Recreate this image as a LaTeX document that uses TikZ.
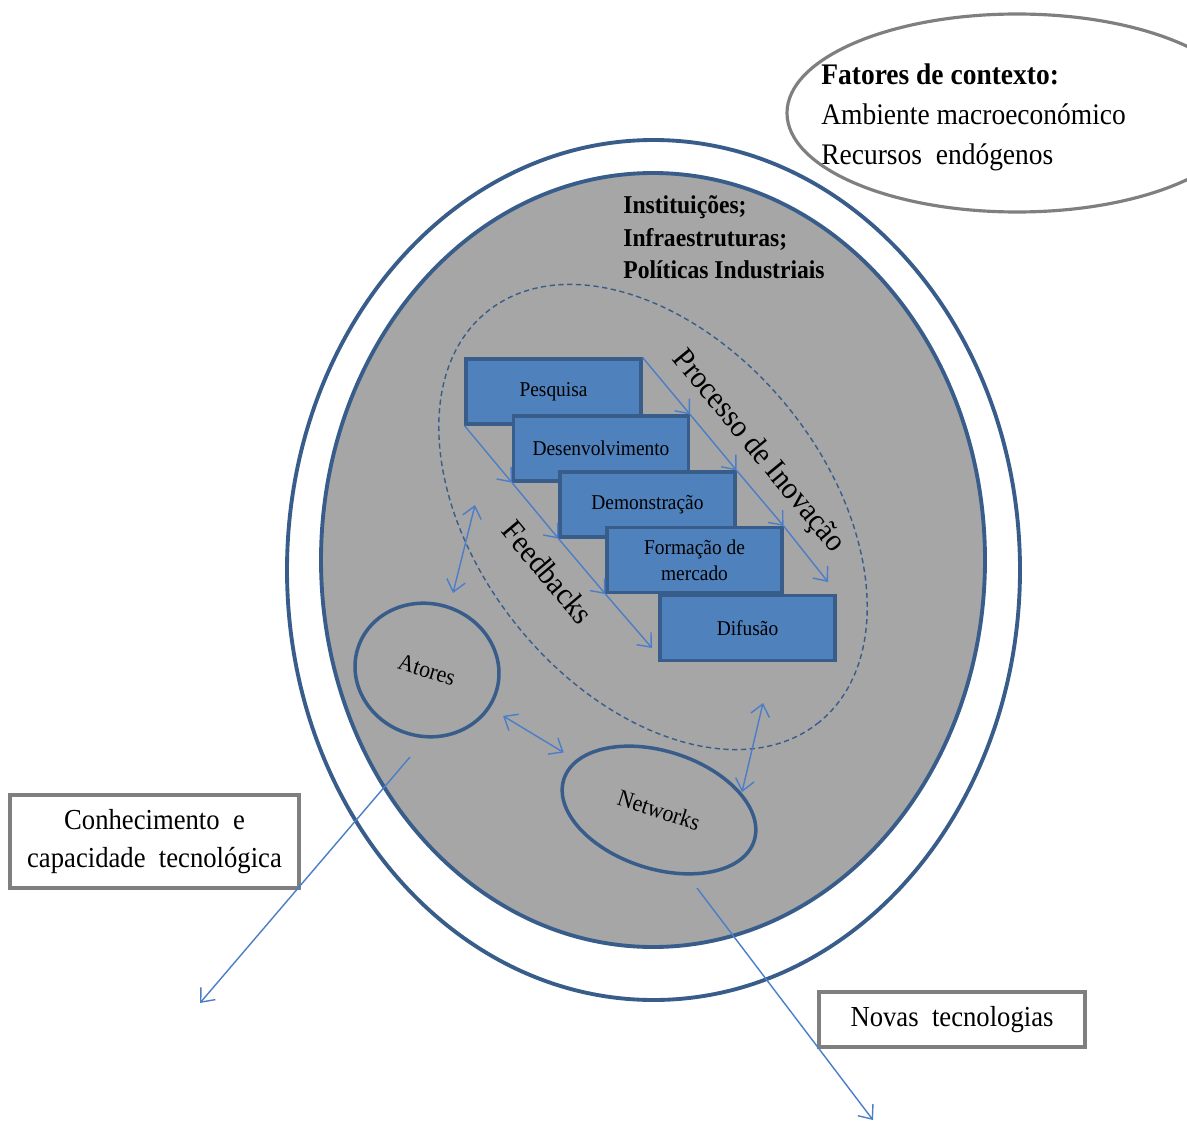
\documentclass[tikz,border=0pt]{standalone}
\usepackage{fontspec}
\setmainfont{Liberation Serif}[FakeStretch=0.92]
\usetikzlibrary{arrows.meta,shapes.geometric}
\tikzset{>={Straight Barb[length=2.3mm,width=3.8mm]}}

\definecolor{ringblue}{RGB}{56,93,138}
\definecolor{boxblue}{RGB}{79,129,189}
\definecolor{arrowblue}{RGB}{74,126,200}
\definecolor{areagray}{RGB}{166,166,166}
\definecolor{framegray}{RGB}{127,127,127}

\tikzset{
    stepbox/.style={draw=ringblue, line width=1.8pt, fill=boxblue, minimum width=3.5cm,
        minimum height=1.3cm, inner sep=0pt, align=center, font=\fontsize{12}{15}\selectfont},
    flow/.style={->, draw=arrowblue, line width=0.8pt},
    both/.style={<->, draw=arrowblue, line width=0.8pt},
    blob/.style={ellipse, draw=ringblue, line width=2pt, inner sep=0pt, font=\fontsize{13.5}{15}\selectfont},
    framebox/.style={draw=framegray, line width=1.8pt, fill=white, inner sep=0pt, align=center,
        font=\fontsize{16.5}{22}\selectfont},
}

\begin{document}
\begin{tikzpicture}[x=0.02cm, y=-0.02cm]
    \useasboundingbox (0, 0) rectangle (1187, 1122);
    % sistema
    \draw[ringblue, line width=2.2pt, fill=white](653.5, 570) ellipse [x radius=366.5, y radius=430];
    \draw[ringblue, line width=2.2pt, fill=areagray](653, 560) ellipse [x radius=332, y radius=387];
    \draw[ringblue, line width=0.8pt, dash pattern=on 3pt off 2pt, rotate around={-51:(653, 517)}]
        (653, 517) ellipse [x radius=264, y radius=174];
    \node[anchor=north west, align=left, inner sep=0pt, font=\bfseries\fontsize{14.6}{18.7}\selectfont](inst) at (623, 195)
        {Instituições;\\Infraestruturas;\\Políticas Industriais};
    % contexto
    \draw[framegray, line width=1.8pt, fill=white](1017, 113) ellipse [x radius=230, y radius=99];
    \node[anchor=west, align=left, inner sep=0pt, font=\fontsize{17}{22.7}\selectfont](ctx) at (821, 117)
        {\textbf{Fatores de contexto:}\\Ambiente macroeconómico\\Recursos\ \ endógenos};

    % etapas
    \node[stepbox](pes) at (553.5, 391.5){Pesquisa};
    \node[stepbox](des) at (601, 448.5){Desenvolvimento};
    \node[stepbox](dem) at (647.5, 504.5){Demonstração};
    \node[stepbox](form) at (694.5, 560){Formação de\\mercado};
    \node[stepbox](dif) at (747.5, 628){Difusão};
    \coordinate (pend) at (828, 582);
    \coordinate (fend) at (652, 648);
    \draw[flow](pes.north east)--(des.north east);
    \draw[flow](des.north east)--(dem.north east);
    \draw[flow](dem.north east)--(form.north east);
    \draw[flow](form.north east)--(pend);
    \draw[flow](pes.south west)--(des.south west);
    \draw[flow](des.south west)--(dem.south west);
    \draw[flow](dem.south west)--(form.south west);
    \draw[flow](form.south west)--(fend);
    \node[rotate=-50.5, font=\fontsize{18}{20}\selectfont](proc) at (758, 452){Processo de Inovação};
    \node[rotate=-50, font=\fontsize{18}{20}\selectfont](feed) at (548, 572){Feedbacks};

    % atores e redes
    \node[blob, minimum width=2.9cm, minimum height=2.65cm, rotate=-17](atores) at (427, 670){Atores};
    \node[blob, minimum width=4.0cm, minimum height=2.35cm, rotate=-18](net) at (659, 810){Networks};
    \coordinate (u1) at (453, 593);
    \coordinate (u2) at (475, 505);
    \coordinate (v1) at (763, 703);
    \coordinate (v2) at (742, 792);
    \draw[both](u1)--(u2);
    \draw[both, shorten <=0.3cm, shorten >=0.28cm](atores)--(net);
    \draw[both](v1)--(v2);

    % saidas
    \node[framebox, minimum width=5.78cm, minimum height=1.86cm](conh) at (154.5, 841.5)
        {Conhecimento\ \ e\\capacidade\ \ tecnológica};
    \node[framebox, minimum width=5.32cm, minimum height=1.1cm](novas) at (952, 1019.5){Novas\ \ tecnologias};
    \coordinate (k0) at (410, 757);
    \coordinate (k1) at (200, 1003);
    \coordinate (n0) at (697, 888);
    \coordinate (n1) at (873, 1120);
    \draw[flow](k0)--(k1);
    \draw[flow](n0)--(n1);
\end{tikzpicture}
\end{document}
